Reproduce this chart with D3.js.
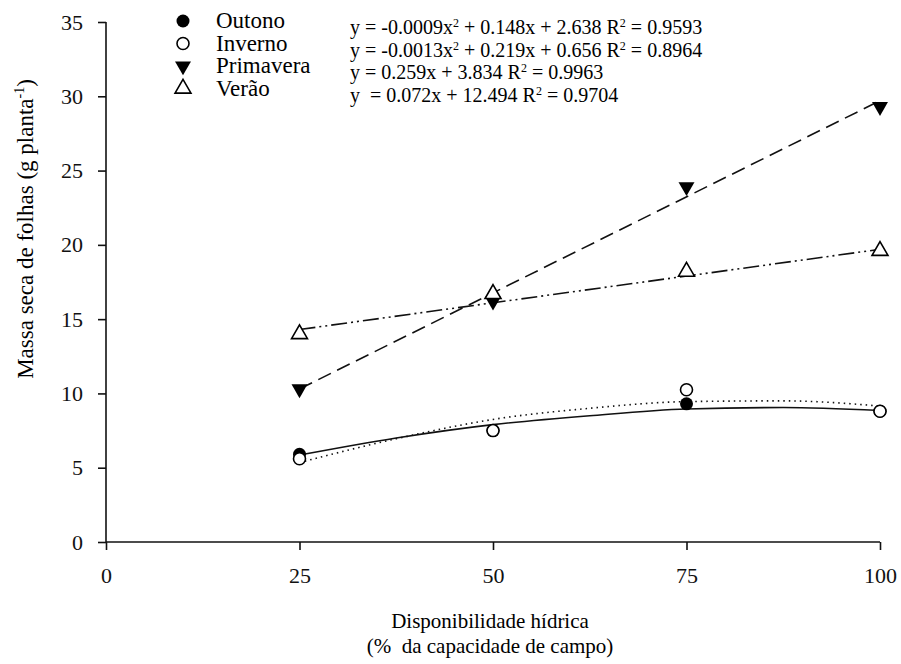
<!DOCTYPE html>
<html>
<head>
<meta charset="utf-8">
<script src="https://cdn.jsdelivr.net/npm/d3@7/dist/d3.min.js"></script>
<style>
  body { margin: 0; background: #fff; }
</style>
</head>
<body>
<div id="chart"></div>
<script>
// water availability (% of field capacity)
var xLevels = [25, 50, 75, 100];
var xTicks = [0, 25, 50, 75, 100];
var yTicks = [0, 5, 10, 15, 20, 25, 30, 35];

// observed leaf dry mass (g plant-1)
var outono = [5.9, 7.5, 9.3, 8.8];
var inverno = [5.6, 7.5, 10.25, 8.8];
var primavera = [10.3, 16.2, 23.9, 29.3];
var verao = [14.0, 16.7, 18.2, 19.6];

// fitted curves
var fitX = [25, 37.5, 50, 62.5, 75, 87.5, 100];
var outonoFit = [5.85, 7.0, 7.9, 8.5, 8.95, 9.05, 8.85];
var invernoFit = [5.35, 6.95, 8.25, 9.0, 9.45, 9.5, 9.15];
var linX = [25, 100];
var primaveraFit = [10.3, 29.7];
var veraoFit = [14.3, 19.7];

var seriesNames = ["Outono", "Inverno", "Primavera", "Verão"];

var FONT = "'Liberation Serif', 'DejaVu Serif', serif";
var W = 901, H = 664;
var margin = {top: 22, left: 106};
var width = 774, height = 520;

var svg = d3.select("#chart").append("svg")
    .attr("width", W)
    .attr("height", H)
    .style("font-family", FONT);

var g = svg.append("g")
    .attr("transform", "translate(" + margin.left + "," + margin.top + ")");

var x = d3.scaleLinear().domain([0, 100]).range([0, width]);
var y = d3.scaleLinear().domain([0, 35]).range([height, 0]);

// axes
var xAxis = d3.axisBottom(x).tickValues(xTicks).tickSize(8).tickPadding(17);
var yAxis = d3.axisLeft(y).tickValues(yTicks).tickSize(8).tickPadding(15);

var gx = g.append("g")
    .attr("transform", "translate(0," + height + ")")
    .call(xAxis);
var gy = g.append("g").call(yAxis);

[gx, gy].forEach(function (a) {
    a.attr("font-family", FONT);
    a.selectAll("path, line").attr("stroke", "#111").attr("stroke-width", 1.6);
    a.selectAll("text")
        .style("font-family", FONT)
        .style("font-size", "22px")
        .attr("fill", "#111");
});
gx.select(".domain").attr("d", "M0,0H" + width);
gy.select(".domain").attr("d", "M0," + height + "V0");

// axis titles
svg.append("text")
    .attr("x", 490).attr("y", 628)
    .attr("text-anchor", "middle")
    .style("font-family", FONT)
    .style("font-size", "21px")
    .text("Disponibilidade hídrica");
svg.append("text")
    .attr("x", 490).attr("y", 653)
    .attr("text-anchor", "middle")
    .style("font-family", FONT)
    .style("font-size", "21px")
    .style("white-space", "pre")
    .text("(%  da capacidade de campo)");

var yl = svg.append("text")
    .attr("transform", "translate(33,229) rotate(-90)")
    .attr("text-anchor", "middle")
    .style("font-family", FONT)
    .style("font-size", "23px");
yl.append("tspan").text("Massa seca de folhas (g planta");
yl.append("tspan").attr("dy", -9).style("font-size", "14px").text("-1");
yl.append("tspan").attr("dy", 9).text(")");

// fitted lines
function fitLine(xs, ys, dash, curve) {
    var pts = xs.map(function (d, i) { return [d, ys[i]]; });
    var line = d3.line()
        .x(function (d) { return x(d[0]); })
        .y(function (d) { return y(d[1]); })
        .curve(curve || d3.curveLinear);
    g.append("path")
        .datum(pts)
        .attr("d", line)
        .attr("fill", "none")
        .attr("stroke", "#111")
        .attr("stroke-width", 1.6)
        .attr("stroke-dasharray", dash);
}
fitLine(fitX, outonoFit, null, d3.curveMonotoneX);
fitLine(fitX, invernoFit, "1.5,4", d3.curveMonotoneX);
fitLine(linX, primaveraFit, "14,7");
fitLine(linX, veraoFit, "16,4,2,4,2,4");

// markers
var symTri = d3.symbol().type(d3.symbolTriangle).size(110);

function drawMarker(sel, kind) {
    if (kind === 0) {
        sel.append("circle").attr("r", 6.5).attr("fill", "#000");
    } else if (kind === 1) {
        sel.append("circle").attr("r", 6).attr("fill", "#fff")
            .attr("stroke", "#000").attr("stroke-width", 1.6);
    } else if (kind === 2) {
        sel.append("path").attr("d", symTri).attr("transform", "rotate(180)")
            .attr("fill", "#000");
    } else {
        sel.append("path").attr("d", symTri).attr("fill", "#fff")
            .attr("stroke", "#000").attr("stroke-width", 1.6);
    }
}

[outono, inverno, primavera, verao].forEach(function (vals, k) {
    g.selectAll(".m" + k)
        .data(vals)
        .enter()
        .append("g")
        .attr("class", "m" + k)
        .attr("transform", function (d, i) {
            return "translate(" + x(xLevels[i]) + "," + y(d) + ")";
        })
        .each(function () { drawMarker(d3.select(this), k); });
});

// legend
var eqs = [
    ["y = -0.0009x", "2", " + 0.148x + 2.638 R", "2", " = 0.9593"],
    ["y = -0.0013x", "2", " + 0.219x + 0.656 R", "2", " = 0.8964"],
    ["y = 0.259x + 3.834 R", "2", " = 0.9963"],
    ["y  = 0.072x + 12.494 R", "2", " = 0.9704"]
];
var legY = [21, 43.5, 66, 88.5];

seriesNames.forEach(function (name, k) {
    var row = svg.append("g").attr("transform", "translate(0," + legY[k] + ")");
    drawMarker(row.append("g").attr("transform", "translate(183,0)"), k);
    row.append("text")
        .attr("x", 216).attr("y", 7)
        .style("font-family", FONT)
        .style("font-size", "23px")
        .text(name);
    var t = row.append("text")
        .attr("x", 350).attr("y", 6)
        .style("font-family", FONT)
        .style("font-size", "20px")
        .style("white-space", "pre");
    eqs[k].forEach(function (s) {
        if (s === "2") {
            t.append("tspan").attr("dy", -7).style("font-size", "12px").text("2");
        } else {
            t.append("tspan").attr("dy", t.selectAll("tspan").size() ? 7 : 0).text(s);
        }
    });
});
</script>
</body>
</html>
